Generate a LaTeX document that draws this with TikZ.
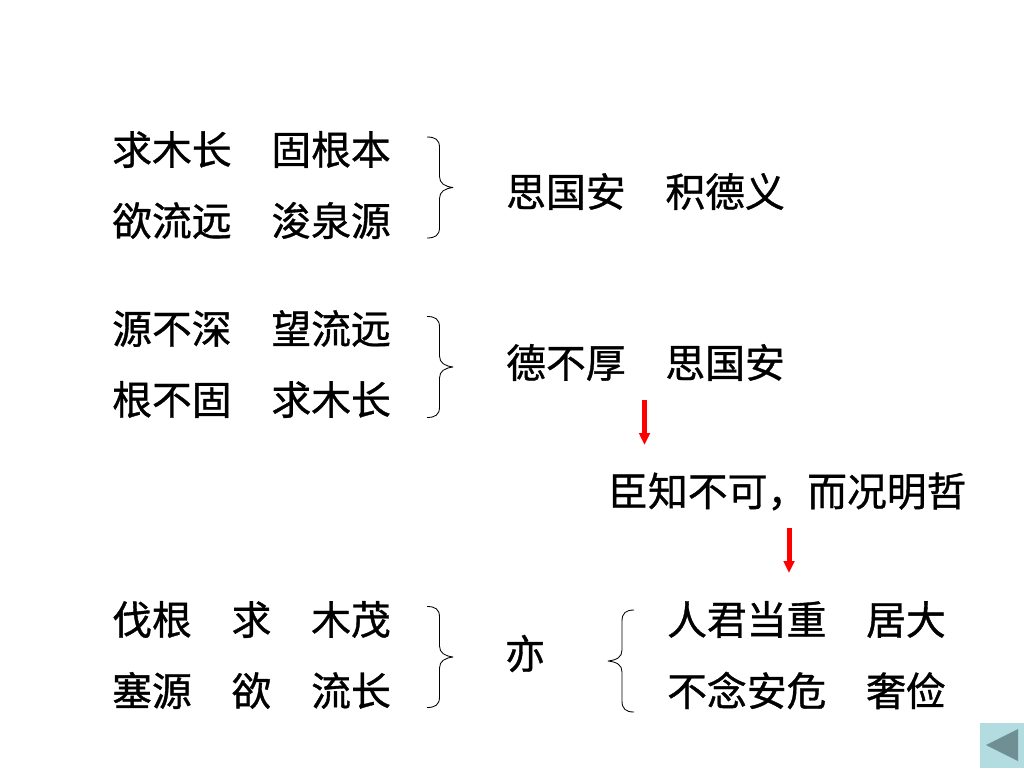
\documentclass[tikz,border=0pt]{standalone}
\usepackage{fontspec}
\setmainfont[RawFeature={embolden=0.9}]{Noto Sans CJK SC}
\usetikzlibrary{arrows.meta}
\definecolor{btnface}{HTML}{B2DCDF}
\definecolor{btnmark}{HTML}{6F8F94}
\tikzset{
    line/.style={anchor=west, inner sep=0pt, font=\fontsize{39.8}{40}\selectfont},
    brace/.style={line width=.85pt, line join=round},
    redarrow/.style={red, line width=5pt, -{Triangle[width=10.5pt,length=12pt]}}
}
\begin{document}
\begin{tikzpicture}[x=1pt, y=-1pt]
\useasboundingbox (0,0) rectangle (1024,768);
\node[line] (a1) at (112,149.5) {求木长　固根本};
\node[line] (a2) at (112,220.5) {欲流远　浚泉源};
\node[line] (a3) at (506,191.5) {思国安　积德义};
\node[line] (b1) at (112,328.5) {源不深　望流远};
\node[line] (b2) at (112,399.5) {根不固　求木长};
\node[line] (b3) at (506,362.5) {德不厚　思国安};
\node[line] (c0) at (608,491.5) {臣知不可，而况明哲};
\node[line] (d1) at (112,619.5) {伐根　求　木茂};
\node[line] (d2) at (112,690.5) {塞源　欲　流长};
\node[line] (d3) at (505,653.5) {亦};
\node[line] (e1) at (667,619.5) {人君当重　居大};
\node[line] (e2) at (667,690.5) {不念安危　奢俭};
% right braces
\foreach \y in {187.5,367,657}{
    \draw[brace] (427,\y-50.5) .. controls (435,\y-50.5) and (439.5,\y-48) .. (439.5,\y-40)
        -- (439.5,\y-11) .. controls (439.5,\y-4) and (445,\y-1) .. (453,\y)
        .. controls (445,\y+1) and (439.5,\y+4) .. (439.5,\y+11)
        -- (439.5,\y+40) .. controls (439.5,\y+48) and (435,\y+50.5) .. (427,\y+50.5);
}
% left brace
\draw[brace] (634,610) .. controls (626,610) and (622,613) .. (622,621)
    -- (622,650) .. controls (622,657) and (617,660) .. (608,661)
    .. controls (617,662) and (622,665) .. (622,672)
    -- (622,701) .. controls (622,709) and (626,712) .. (634,712);
% arrows
\coordinate (p1) at (644.5,400);
\coordinate (q1) at (644.5,445);
\coordinate (p2) at (789,528);
\coordinate (q2) at (789,573);
\draw[redarrow] (p1) -- (q1);
\draw[redarrow] (p2) -- (q2);
% back button
\fill[btnface] (979.5,722.5) rectangle (1024,768);
\fill[btnmark] (986,745) -- (1018,729) -- (1018,761) -- cycle;
\end{tikzpicture}
\end{document}
